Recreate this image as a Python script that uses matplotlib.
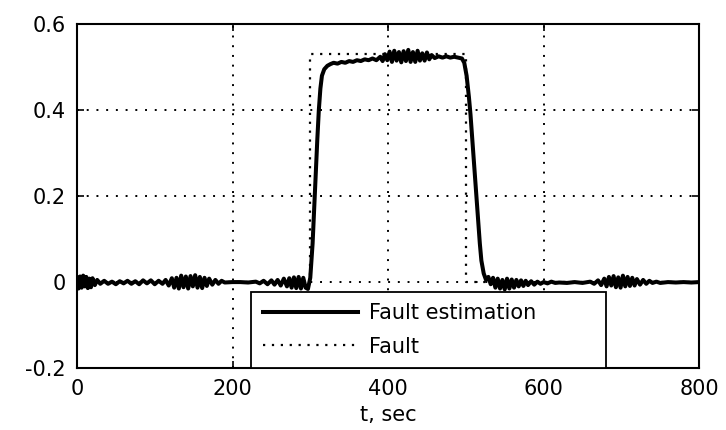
import matplotlib
matplotlib.use('Agg')
import matplotlib.pyplot as plt

# fault estimation
t_est = [0, 2, 4, 6, 8, 10, 12, 14, 16, 18, 20, 23, 26, 30, 35, 40, 45, 50, 55, 60,
         65, 70, 75, 80, 85, 90, 95, 100, 105, 110, 114, 118, 122, 125, 128, 131, 134,
         137, 140, 143, 146, 149, 152, 155, 158, 161, 164, 167, 170, 174, 178, 182,
         186, 190, 200, 210, 220, 230, 235, 240, 245, 250, 254, 258, 262, 266, 270,
         273, 276, 279, 282, 285, 288, 291, 294, 297, 300, 303, 305, 307, 309, 311,
         313, 315, 318, 322, 326, 330, 335, 340, 345, 350, 355, 360, 365, 370, 375,
         380, 385, 390, 393, 396, 399, 402, 405, 408, 411, 414, 417, 420, 423, 426,
         429, 432, 435, 438, 441, 444, 447, 450, 453, 456, 460, 465, 470, 475, 480,
         485, 490, 495, 498, 501, 504, 506, 508, 510, 512, 514, 516, 518, 520, 523,
         526, 529, 532, 535, 538, 541, 544, 547, 550, 553, 556, 559, 562, 565, 568,
         571, 574, 577, 580, 584, 588, 592, 596, 600, 605, 610, 615, 620, 630, 640,
         650, 660, 665, 670, 674, 678, 681, 684, 687, 690, 693, 696, 699, 702, 705,
         708, 711, 714, 717, 720, 724, 728, 732, 736, 740, 745, 750, 760, 770, 780,
         790, 800]
f_est = [0.010, -0.015, 0.013, -0.013, 0.015, -0.010, 0.012, -0.014, 0.008, -0.012,
         0.009, -0.007, 0.005, -0.004, 0.003, -0.004, 0.001, -0.005, 0.002, -0.003,
         0.003, -0.004, 0.002, -0.005, 0.004, -0.003, 0.004, -0.005, 0.003, -0.004,
         0.005, -0.008, 0.009, -0.013, 0.010, -0.015, 0.015, -0.012, 0.013, -0.015,
         0.014, -0.010, 0.016, -0.013, 0.012, -0.014, 0.010, -0.009, 0.008, -0.006,
         0.005, -0.004, 0.003, -0.001, 0.000, 0.000, -0.001, 0.001, -0.003, 0.003,
         -0.005, 0.004, -0.006, 0.005, -0.008, 0.008, -0.010, 0.009, -0.013, 0.011,
         -0.014, 0.012, -0.015, 0.010, -0.013, -0.016, 0.010, 0.090, 0.170, 0.250,
         0.330, 0.400, 0.450, 0.480, 0.495, 0.503, 0.507, 0.510, 0.508, 0.512, 0.510,
         0.514, 0.512, 0.516, 0.514, 0.518, 0.516, 0.520, 0.516, 0.524, 0.514, 0.530,
         0.516, 0.536, 0.512, 0.538, 0.515, 0.535, 0.511, 0.537, 0.514, 0.540, 0.512,
         0.535, 0.512, 0.538, 0.515, 0.532, 0.515, 0.534, 0.518, 0.528, 0.521, 0.525,
         0.522, 0.525, 0.522, 0.524, 0.522, 0.520, 0.510, 0.480, 0.430, 0.390, 0.340,
         0.290, 0.240, 0.190, 0.140, 0.090, 0.050, 0.020, 0.005, 0.012, -0.005, 0.010,
         -0.013, 0.008, -0.015, 0.005, -0.017, 0.008, -0.015, 0.006, -0.013, 0.005,
         -0.010, 0.004, -0.009, 0.003, -0.007, 0.002, -0.006, 0.001, -0.004, 0.000,
         -0.003, 0.001, -0.002, -0.001, -0.002, 0.000, -0.002, 0.001, -0.004, 0.004,
         -0.007, 0.008, -0.010, 0.012, -0.008, 0.014, -0.012, 0.011, -0.013, 0.015,
         -0.010, 0.012, -0.009, 0.010, -0.008, 0.007, -0.006, 0.005, -0.004, 0.003,
         -0.002, 0.001, -0.002, 0.000, -0.001, 0.000, -0.001, 0.000]

# actual fault
t_fault = [0, 300, 300, 500, 500, 800]
f_fault = [0, 0, 0.53, 0.53, 0, 0]

x_ticks = [0, 200, 400, 600, 800]
y_ticks = [-0.2, 0, 0.2, 0.4, 0.6]
y_tick_labels = ['-0.2', '0', '0.2', '0.4', '0.6']

plt.rcParams['font.family'] = ['DejaVu Sans']
plt.rcParams['font.size'] = 15

fig = plt.figure(figsize=(7.26, 4.30), dpi=100)
ax = fig.add_axes([0.106, 0.144, 0.857, 0.8])

ax.plot(t_est, f_est, color='black', linewidth=2.9, label='Fault estimation')
ax.plot(t_fault, f_fault, color='black', linewidth=1.6, linestyle=(0, (1, 3)),
        label='Fault')

ax.set_xlim(0, 800)
ax.set_ylim(-0.2, 0.6)
ax.set_xticks(x_ticks)
ax.set_yticks(y_ticks)
ax.set_yticklabels(y_tick_labels)
ax.grid(True, color='black', linewidth=1.4, linestyle=(0, (1, 4)))
ax.tick_params(direction='in', length=5, width=1.2, top=True, right=True, pad=8,
               labelsize=15)
for s in ax.spines.values():
    s.set_linewidth(1.5)
ax.set_xlabel('t, sec', fontsize=15, labelpad=4)

leg = ax.legend(loc='lower left', bbox_to_anchor=(0.28, 0.0, 0.57, 0.218),
                mode='expand', borderaxespad=0, fancybox=False, framealpha=1,
                edgecolor='black', fontsize=15, handlelength=4.6,
                handletextpad=0.5, labelspacing=0.65, borderpad=0.55)
leg.get_frame().set_linewidth(1.3)

plt.savefig('out.png', dpi=100)
plt.close()
